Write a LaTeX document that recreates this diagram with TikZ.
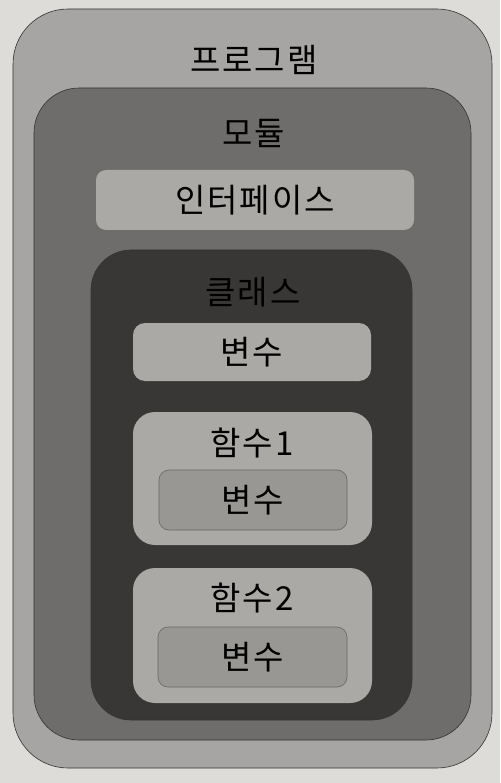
\documentclass[tikz,border=0pt]{standalone}
\usepackage{fontspec}
\setmainfont{Noto Sans CJK KR}[LetterSpace=6]
\usepackage{tikz}
\usetikzlibrary{calc}
\definecolor{paper}{RGB}{222,220,216}
\definecolor{progfill}{RGB}{166,165,163}
\definecolor{modfill}{RGB}{110,109,107}
\definecolor{classfill}{RGB}{56,55,54}
\definecolor{boxfill}{RGB}{170,169,166}
\definecolor{varfill}{RGB}{152,151,148}

\begin{document}
\begin{tikzpicture}[x=1pt,y=-1pt,
    layer/.style={draw=black!80,line width=0.6pt,inner sep=0pt},
    label/.style={font=\fontsize{33}{36}\selectfont,inner sep=0pt}]
      \fill[paper] (0,0) rectangle (500,783);
      \useasboundingbox (0,0) rectangle (500,783);
      % nested blocks
      \node[layer,fill=progfill,rounded corners=55pt,minimum width=479pt,minimum height=759pt] (prog) at (252.5,388.5) {};
      \node[layer,fill=modfill,rounded corners=45pt,minimum width=437pt,minimum height=652pt] (mod) at (252.5,414) {};
      \node[layer,fill=boxfill,draw=none,rounded corners=10pt,minimum width=318pt,minimum height=60pt] (iface) at (255,200) {};
      \node[layer,fill=classfill,rounded corners=40pt,minimum width=321pt,minimum height=470pt] (cls) at (251.5,485) {};
      \node[layer,fill=boxfill,draw=none,rounded corners=12pt,minimum width=238pt,minimum height=58pt] (var) at (252,352) {};
      \node[layer,fill=boxfill,draw=none,rounded corners=22pt,minimum width=239pt,minimum height=133pt] (fnA) at (252.5,478.5) {};
      \node[layer,fill=varfill,draw=black!60,rounded corners=10pt,minimum width=188pt,minimum height=60pt] (varA) at (253,500) {};
      \node[layer,fill=boxfill,draw=none,rounded corners=22pt,minimum width=239pt,minimum height=135pt] (fnB) at (252.5,635.5) {};
      \node[layer,fill=varfill,draw=black!60,rounded corners=10pt,minimum width=189pt,minimum height=60pt] (varB) at (252.5,657) {};

      % labels
      \node[label] (progtxt) at (254,60) {프로그램};
      \node[label] (modtxt) at (254,133) {모듈};
      \node[label] at (iface) {인터페이스};
      \node[label] (clstxt) at (253,292) {클래스};
      \node[label] at (var) {변수};
      \node[label] (fnAtxt) at (252,443) {함수1};
      \node[label] at (varA) {변수};
      \node[label] (fnBtxt) at (252,598) {함수2};
      \node[label] at (varB) {변수};
    \end{tikzpicture}
\end{document}
